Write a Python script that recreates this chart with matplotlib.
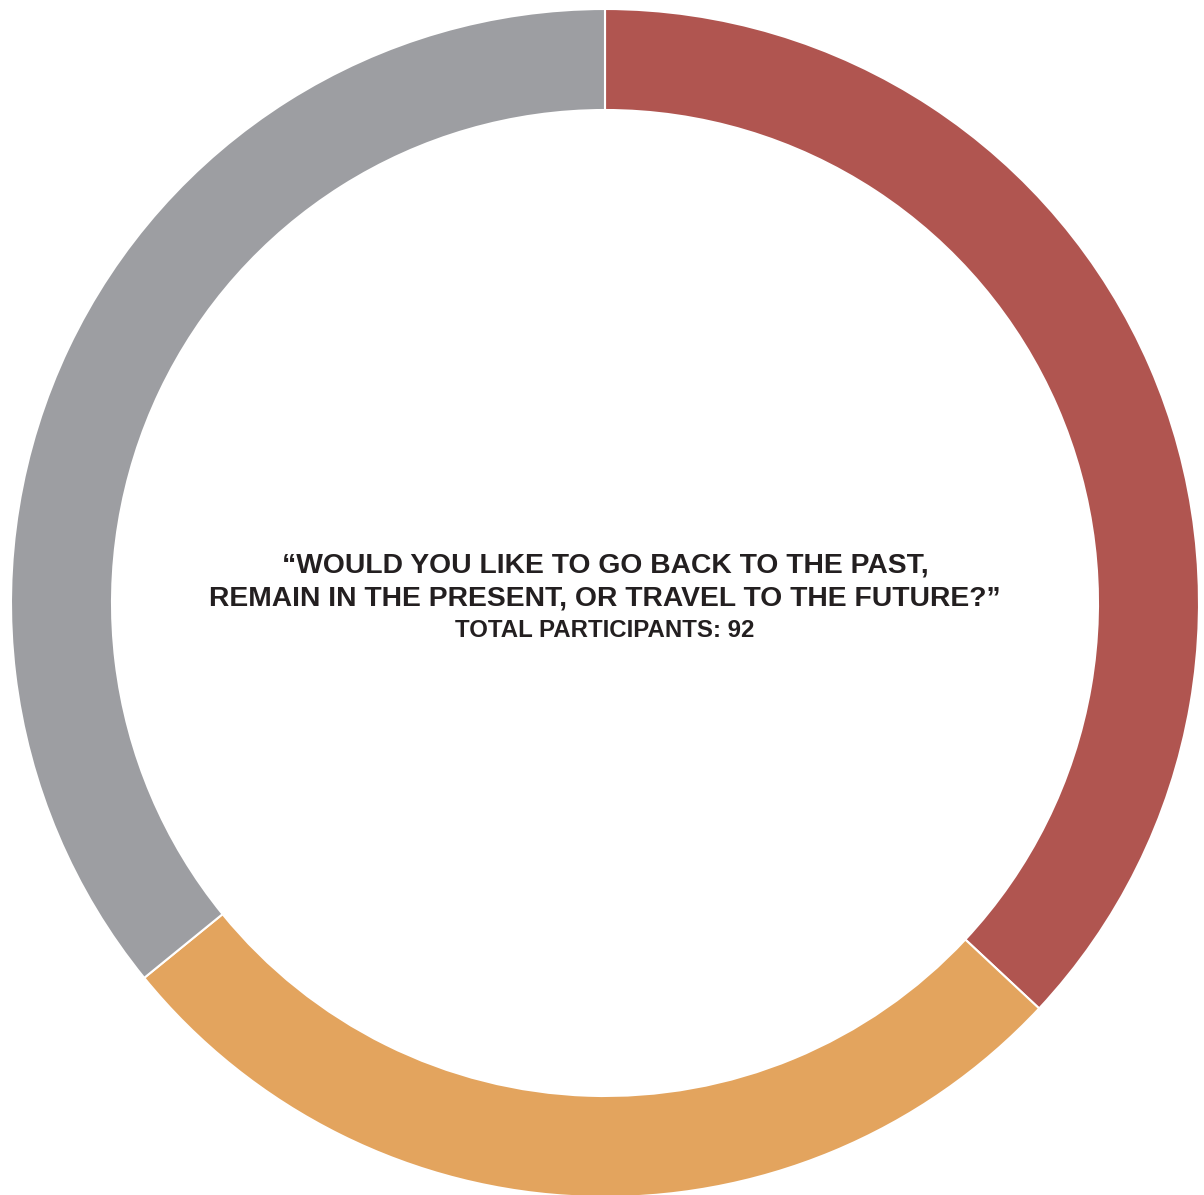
import matplotlib
matplotlib.use("Agg")
import matplotlib.pyplot as plt

# answers to the time-travel question (92 participants)
answers = ["Past", "Future", "Present"]
counts = [34, 25, 33]
colors = ["#B05550", "#E3A45E", "#9D9EA2"]

question_lines = ["\u201cWOULD YOU LIKE TO GO BACK TO THE PAST,",
                  "REMAIN IN THE PRESENT, OR TRAVEL TO THE FUTURE?\u201d"]
subtitle = "TOTAL PARTICIPANTS: %d" % sum(counts)

W, H = 1204, 1195
fig = plt.figure(figsize=(W / 100, H / 100), dpi=100)
ax = fig.add_axes([0, 0, 1, 1])
ax.set_aspect("equal")

cx, cy = 605, H - 603
ax.pie(counts, colors=colors, startangle=90, counterclock=False,
       radius=594, center=(cx, cy), frame=True,
       wedgeprops=dict(width=101, edgecolor="white", linewidth=1.5))
ax.set_xlim(0, W)
ax.set_ylim(0, H)
ax.axis("off")

# baselines in pixels from the top
for line, base in zip(question_lines, [572, 605]):
    ax.text(cx, H - base, line, ha="center", va="baseline", fontsize=20.3,
            fontweight="bold", family="Liberation Sans", color="#231F20")
ax.text(cx, H - 637, subtitle, ha="center", va="baseline", fontsize=17.3,
        fontweight="bold", family="Liberation Sans", color="#231F20")

fig.savefig("out.png", dpi=100)
